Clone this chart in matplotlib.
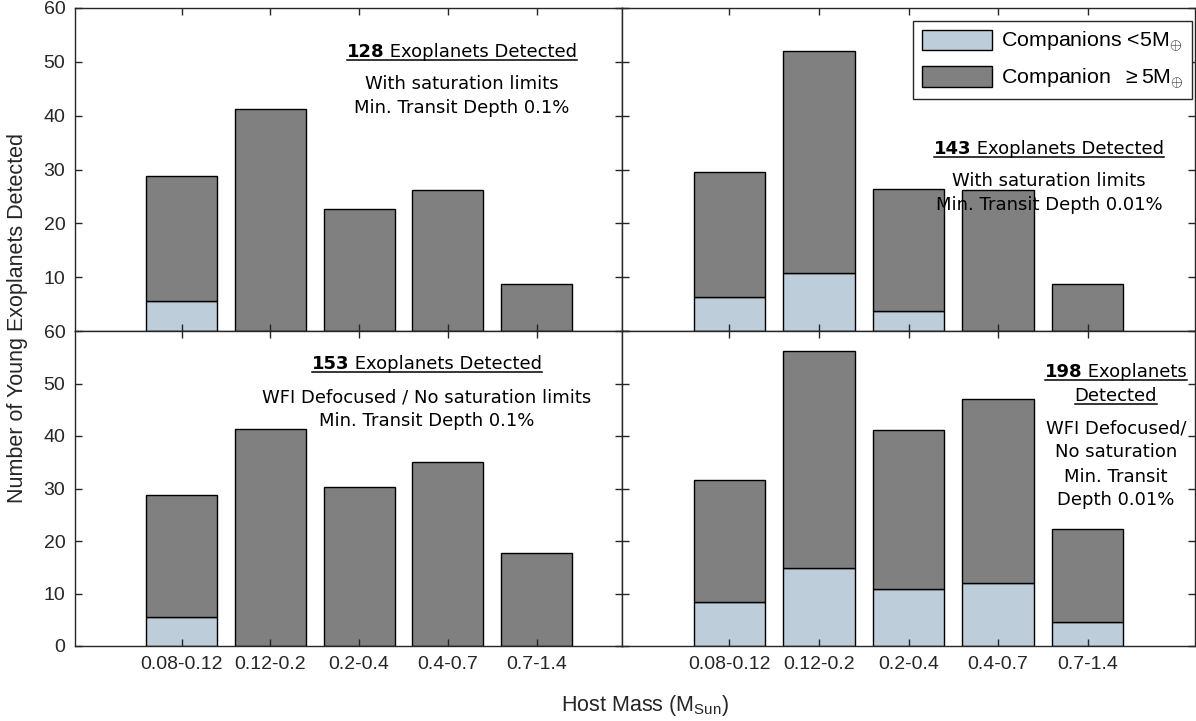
import matplotlib.pyplot as plt
from matplotlib.lines import Line2D

plt.rcParams['font.family'] = ['Liberation Sans', 'DejaVu Sans']
plt.rcParams['mathtext.fontset'] = 'custom'
plt.rcParams['mathtext.rm'] = 'Liberation Sans'
plt.rcParams['mathtext.it'] = 'Liberation Sans:italic'

# host mass bins
bins = ['0.08-0.12', '0.12-0.2', '0.2-0.4', '0.4-0.7', '0.7-1.4']

# companions >= 5 Earth masses
large_sat = [23.2, 41.3, 22.7, 26.2, 8.8]
large_nosat = [23.2, 41.3, 30.3, 35.0, 17.7]

# companions < 5 Earth masses
small_tl = [5.5, 0, 0, 0, 0]
small_tr = [6.3, 10.8, 3.7, 0, 0]
small_bl = [5.6, 0, 0, 0, 0]
small_br = [8.4, 14.9, 10.9, 12.0, 4.6]

LIGHT = '#bdcdda'
DARK = '#808080'
EDGE = '#262626'
W, H = 1196, 721

fig = plt.figure(figsize=(W / 100, H / 100), dpi=100)


def box(x0, y0, x1, y1):
    return [x0 / W, 1 - y1 / H, (x1 - x0) / W, (y1 - y0) / H]


ax_tl = fig.add_axes(box(75, 8, 622, 331))
ax_tr = fig.add_axes(box(622, 8, 1195, 331))
ax_bl = fig.add_axes(box(75, 331, 622, 646))
ax_br = fig.add_axes(box(622, 331, 1195, 646))

x = [1, 2, 3, 4, 5]
panels = [(ax_tl, small_tl, large_sat, 5.96), (ax_tr, small_tr, large_sat, 6.2),
          (ax_bl, small_bl, large_nosat, 5.96), (ax_br, small_br, large_nosat, 6.2)]
for ax, small, large, xr in panels:
    b1 = ax.bar(x, small, 0.8, color=LIGHT, edgecolor='black', linewidth=1)
    b2 = ax.bar(x, large, 0.8, bottom=small, color=DARK, edgecolor='black', linewidth=1)
    ax.set_xlim(-0.2, xr)
    ax.set_ylim(0, 60)
    ax.set_xticks(x)
    ax.set_yticks([0, 10, 20, 30, 40, 50, 60])
    ax.tick_params(direction='in', top=True, right=True, length=5, width=1,
                   color=EDGE, labelsize=14, labelcolor='#262626', pad=7)
    for s in ax.spines.values():
        s.set_color(EDGE)
        s.set_linewidth(1)

ax_tl.set_yticks([10, 20, 30, 40, 50, 60])
ax_tl.set_xticklabels([])
ax_tr.set_xticklabels([])
ax_tr.set_yticklabels([])
ax_br.set_yticklabels([])
ax_bl.set_xticklabels(bins)
ax_br.set_xticklabels(bins)

leg = ax_tr.legend([b1, b2], [r'Companions <5M$_{\oplus}$', r'Companion  $\geq$5M$_{\oplus}$'],
                   loc='upper right', bbox_to_anchor=(0.9948, 0.9598), borderaxespad=0,
                   fontsize=15.4, handlelength=3.27, handleheight=1.12, handletextpad=0.42,
                   labelspacing=0.55, borderpad=0.4, fancybox=False, framealpha=1)
leg.get_frame().set_edgecolor(EDGE)
leg.get_frame().set_linewidth(1)

fig.text(18 / W, 1 - 318 / H, 'Number of Young Exoplanets Detected', rotation=90,
         ha='center', va='center', fontsize=15.5, color='#262626')
fig.text(645 / W, 1 - 711 / H, r'Host Mass (M$_{\mathrm{Sun}}$)', ha='center',
         va='baseline', fontsize=15.5, color='#262626')

renderer = fig.canvas.get_renderer()
NOTE = dict(family='DejaVu Sans', fontsize=13, color='black', va='baseline')


def note(xc, yb, text, num=None, underline=False):
    parts = []
    if num is not None:
        parts.append(fig.text(0, 0, num, fontweight='bold', **NOTE))
        text = ' ' + text
    parts.append(fig.text(0, 0, text, **NOTE))
    widths = [p.get_window_extent(renderer).width for p in parts]
    left = xc - sum(widths) / 2
    cur = left
    for p, w in zip(parts, widths):
        p.set_position((cur / W, 1 - yb / H))
        cur += w
    if underline:
        fig.add_artist(Line2D([left / W, cur / W], [1 - (yb + 2.8) / H] * 2,
                              color='black', linewidth=1.1))


note(462, 56.7, 'Exoplanets Detected', '128', True)
note(462, 89.3, 'With saturation limits')
note(462, 112.7, 'Min. Transit Depth 0.1%')

note(1049, 153.7, 'Exoplanets Detected', '143', True)
note(1049, 186.3, 'With saturation limits')
note(1049, 209.7, 'Min. Transit Depth 0.01%')

note(427, 369.3, 'Exoplanets Detected', '153', True)
note(427, 402.7, 'WFI Defocused / No saturation limits')
note(427, 426.3, 'Min. Transit Depth 0.1%')

note(1116, 377.3, 'Exoplanets', '198', True)
note(1116, 401, 'Detected', None, True)
note(1116, 433.3, 'WFI Defocused/')
note(1116, 457.3, 'No saturation')
note(1116, 481.7, 'Min. Transit')
note(1116, 505, 'Depth 0.01%')

fig.savefig('out.png', dpi=100)
